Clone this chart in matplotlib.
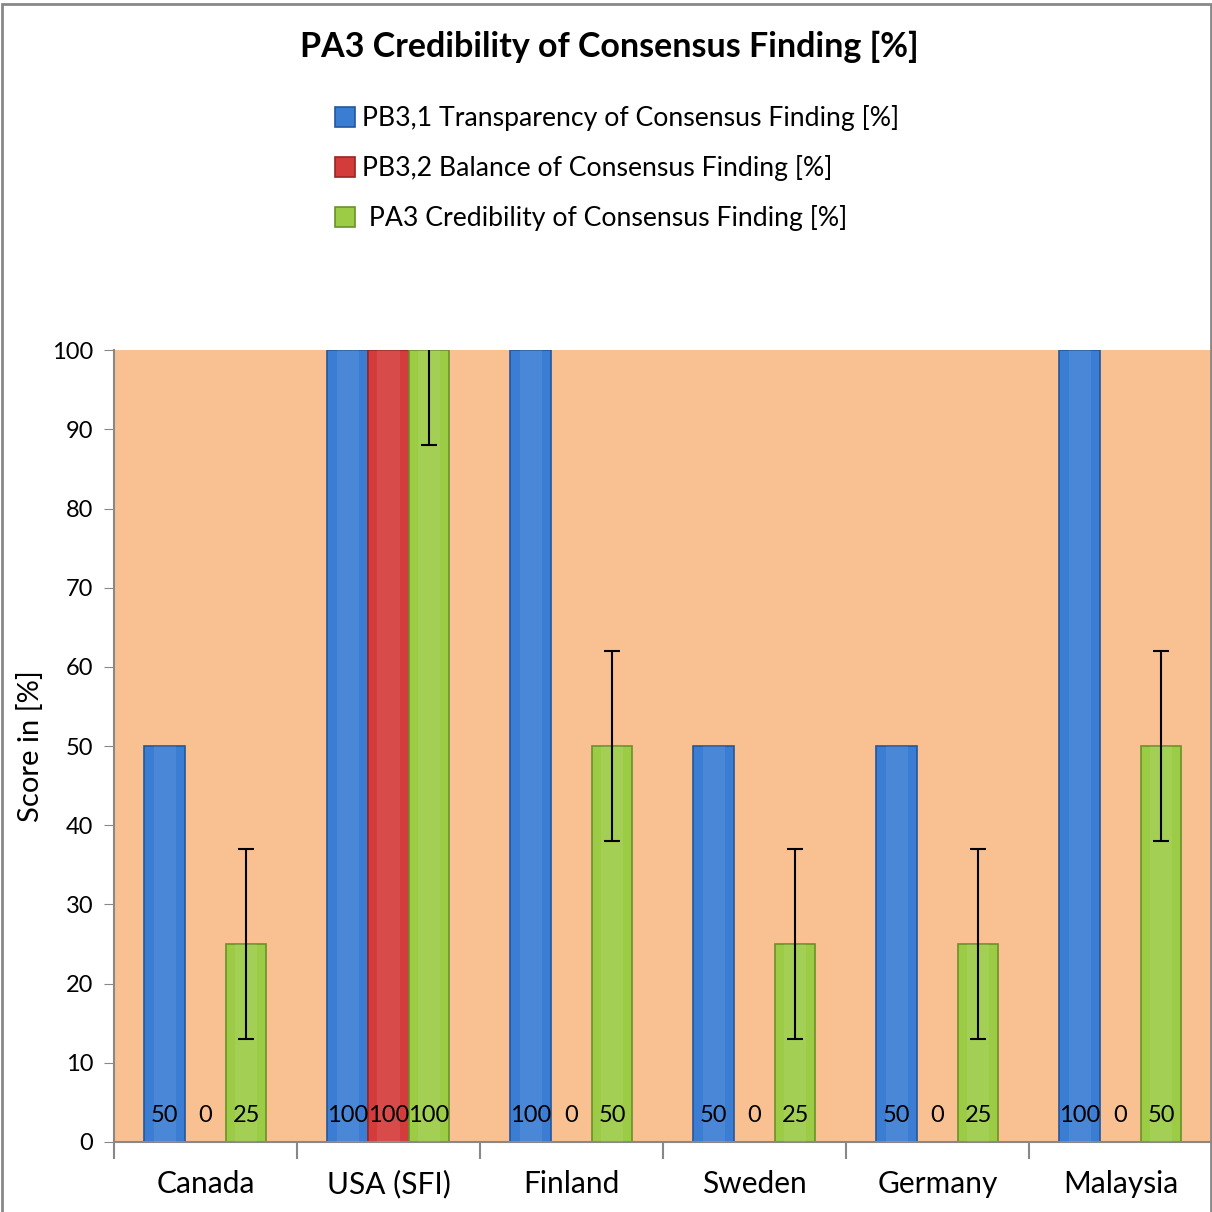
import numpy as np
import matplotlib
matplotlib.use("Agg")
import matplotlib.pyplot as plt
from matplotlib.patches import Rectangle

plt.rcParams['font.family'] = ['Lato', 'DejaVu Sans']

# data
countries = ["Canada", "USA (SFI)", "Finland", "Sweden", "Germany", "Malaysia"]
transparency = [50, 100, 100, 50, 50, 100]
balance = [0, 100, 0, 0, 0, 0]
credibility = [25, 100, 50, 25, 25, 50]
cred_err = [12, 12, 12, 12, 12, 12]

names = ["PB3,1 Transparency of Consensus Finding [%]",
         "PB3,2 Balance of Consensus Finding [%]",
         " PA3 Credibility of Consensus Finding [%]"]
colors = ["#3b7dd3", "#d43c3c", "#9ccb46"]
edges = ["#24579c", "#9a2424", "#6b9129"]

fig = plt.figure(figsize=(12.12, 12.12), dpi=100)
ax = fig.add_axes([0.094, 0.0578, 0.906, 0.6533])
ax.set_facecolor("#f9c191")

x = np.arange(len(countries))
w = 2 / 9
series = [transparency, balance, credibility]
for i, vals in enumerate(series):
    pos = x + (i - 1) * w
    ax.bar(pos, vals, w, color=colors[i], edgecolor=edges[i],
           linewidth=1.2, label=names[i], zorder=2)
    # lighter center stripe for a bit of the bevel look
    ax.bar(pos, vals, w * 0.55, color="white", alpha=0.08, linewidth=0, zorder=3)
    for p, v in zip(pos, vals):
        ax.text(p, 3.3, f"{v}", ha="center", va="center", fontsize=17,
                color="black", zorder=5)

ax.errorbar(x + w, credibility, yerr=cred_err, fmt="none", ecolor="black",
            elinewidth=1.5, capsize=6, capthick=1.5, zorder=4)

ax.set_xlim(-0.5, len(countries) - 0.5)
ax.set_ylim(0, 100)
ax.set_yticks(np.arange(0, 101, 10))
ax.tick_params(axis="y", labelsize=17, length=7, color="#888888", pad=8)
ax.set_xticks(x)
ax.set_xticklabels(countries, fontsize=21.5)
ax.tick_params(axis="x", length=0, pad=20)
ax.set_xticks(np.arange(-0.5, len(countries), 1), minor=True)
ax.tick_params(axis="x", which="minor", length=12, color="#888888", width=1.5)
for s in ["top", "right"]:
    ax.spines[s].set_visible(False)
for s in ["left", "bottom"]:
    ax.spines[s].set_color("#888888")
    ax.spines[s].set_linewidth(1.5)
ax.set_ylabel("Score in [%]", fontsize=21, labelpad=6)

fig.text(0.503, 0.961, "PA3 Credibility of Consensus Finding [%]",
         ha="center", va="center", fontsize=24.5, fontweight="bold")

handles, labels = ax.get_legend_handles_labels()
fig.legend(handles, labels, loc="upper left", bbox_to_anchor=(0.268, 0.922),
           frameon=False, fontsize=19.2, handlelength=0.75, handleheight=0.75,
           handletextpad=0.25, labelspacing=0.9, borderaxespad=0)

fig.patches.append(Rectangle((0.002, -0.01), 0.9975, 1.007,
                             transform=fig.transFigure, fill=False,
                             edgecolor="#888888", linewidth=2))

fig.savefig("out.png", dpi=100)
